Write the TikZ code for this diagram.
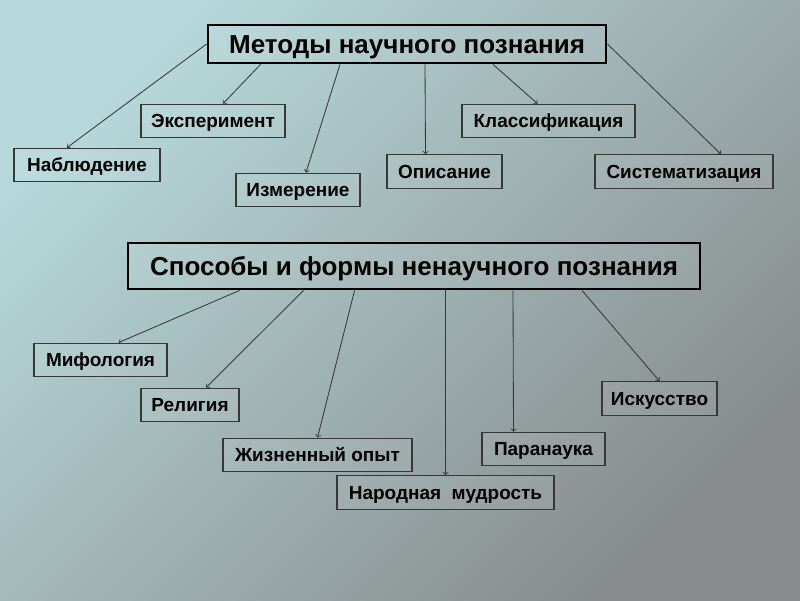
\documentclass[tikz,border=0pt]{standalone}
\usepackage{fontspec}
\setmainfont{Liberation Sans}
\usepackage{xcolor}
\usetikzlibrary{positioning}
\definecolor{bgtop}{RGB}{182, 216, 218}
\definecolor{bgbottom}{RGB}{136, 140, 140}
\definecolor{linegray}{RGB}{55, 55, 55}

\begin{document}
\begin{tikzpicture}[
    head/.style={rectangle, draw=black, line width=2pt, fill=white,
                 fill opacity=0.08, text opacity=1, inner sep=2pt,
                 text height=13.3pt, text depth=0pt,
                 font=\fontsize{18.5}{22}\selectfont\bfseries},
    box/.style={rectangle, draw=linegray, line width=0.8pt, fill=white,
                fill opacity=0.08, text opacity=1, inner sep=2pt,
                text height=9.7pt, text depth=0pt,
                minimum height=0.84cm, font=\fontsize{13.5}{16}\selectfont\bfseries},
    arrow/.style={->, line width=0.6pt, color=linegray}
]
    \shade[top color=bgtop, bottom color=bgbottom, shading angle=45] (0,0) rectangle (20,-15);

    \node[head, minimum width=9.95cm, minimum height=0.95cm] (m0) at (10.175,-1.1) {Методы научного познания};
    \node[box, minimum width=3.6cm] (m1) at (5.325,-3.025) {Эксперимент};
    \node[box, minimum width=3.65cm] (m2) at (2.175,-4.125) {Наблюдение};
    \node[box, minimum width=3.1cm] (m3) at (7.45,-4.75) {Измерение};
    \node[box, minimum width=2.875cm] (m4) at (11.1125,-4.2875) {Описание};
    \node[box, minimum width=4.325cm] (m5) at (13.7125,-3.025) {Классификация};
    \node[box, minimum width=4.45cm] (m6) at (17.1,-4.2875) {Систематизация};

    \draw[arrow] (m0.west) -- ([xshift=-5mm]m2.north);
    \draw[arrow] ([xshift=13.5mm]m0.south west) -- ([xshift=2.5mm]m1.north);
    \draw[arrow] ([xshift=-16.75mm]m0.south) -- ([xshift=2mm]m3.north);
    \draw[arrow] ([xshift=4.5mm]m0.south) -- ([xshift=-4.75mm]m4.north);
    \draw[arrow] ([xshift=21.5mm]m0.south) -- ([xshift=-2.75mm]m5.north);
    \draw[arrow] (m0.east) -- ([xshift=9.25mm]m6.north);

    \node[head, minimum width=14.3cm, minimum height=1.15cm] (s0) at (10.35,-6.65) {Способы и формы ненаучного познания};
    \node[box, minimum width=3.325cm] (s1) at (2.5125,-9.0) {Мифология};
    \node[box, minimum width=2.45cm] (s2) at (4.75,-10.125) {Религия};
    \node[box, minimum width=4.725cm] (s3) at (7.9375,-11.375) {Жизненный опыт};
    \node[box, minimum width=5.425cm] (s4) at (11.1375,-12.3125) {Народная~ мудрость};
    \node[box, minimum width=3.075cm] (s5) at (13.5875,-11.225) {Паранаука};
    \node[box, minimum width=2.875cm] (s6) at (16.4875,-9.9625) {Искусство};

    \draw[arrow] ([xshift=28.25mm]s0.south west) -- ([xshift=4.5mm]s1.north);
    \draw[arrow] ([xshift=44.25mm]s0.south west) -- ([xshift=4mm]s2.north);
    \draw[arrow] ([xshift=57mm]s0.south west) -- (s3.north);
    \draw[arrow] (s4.north |- s0.south) -- (s4.north);
    \draw[arrow] ([xshift=24.75mm]s0.south) -- ([xshift=-7.5mm]s5.north);
    \draw[arrow] ([xshift=42mm]s0.south) -- (s6.north);
\end{tikzpicture}
\end{document}
